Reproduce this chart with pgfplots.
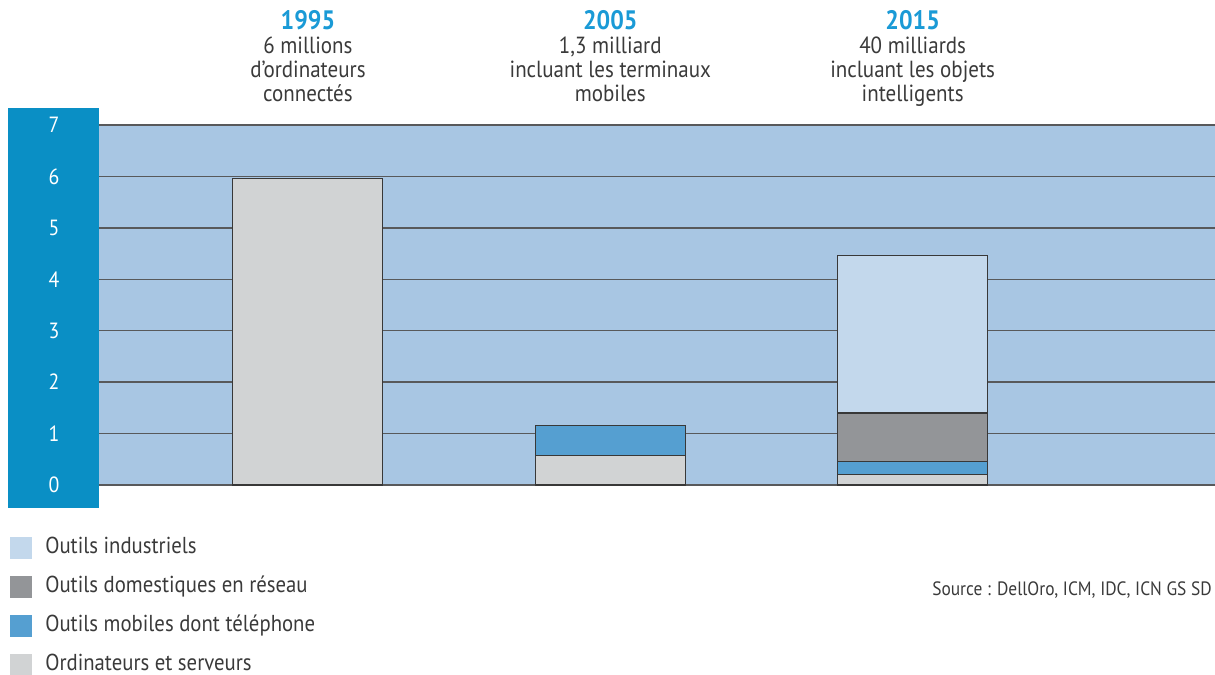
\documentclass[border=0pt]{standalone}
\usepackage{pgfplots}
\pgfplotsset{compat=1.18}
\usepackage{fontspec}
\setmainfont{PT Sans}[FakeStretch=0.9]
\definecolor{stripblue}{HTML}{0A8FC5}
\definecolor{plotbg}{HTML}{A8C6E3}
\definecolor{titleblue}{HTML}{1A9AD6}
\definecolor{cOrd}{HTML}{D1D3D4}
\definecolor{cMob}{HTML}{559FD1}
\definecolor{cDom}{HTML}{939598}
\definecolor{cInd}{HTML}{C3D8EC}
\definecolor{txt}{HTML}{3A3A3A}
\definecolor{gridc}{HTML}{58595B}
\begin{document}
\begin{tikzpicture}
\path[use as bounding box] (0,0) rectangle (911.25pt,506.25pt);
\fill[stripblue] (6pt,125.25pt) rectangle (74.25pt,425.25pt);
\begin{axis}[
  at={(74.25pt,142.5pt)}, anchor=south west,
  width=837pt, height=270pt, scale only axis,
  xmin=-0.691, xmax=3.0, ymin=0, ymax=7,
  xtick=\empty, ytick={0,1,...,7},
  major tick length=0pt,
  axis line style={draw=none},
  axis background/.style={fill=plotbg},
  ymajorgrids, grid style={gridc, line width=1.1pt},
  /pgf/number format/assume math mode=true,
  yticklabel style={font=\fontsize{16.5}{18}\selectfont, text=white, anchor=center, xshift=-33.75pt},
  ybar stacked, bar width=112.5pt,
  clip=false,
  every axis plot/.append style={draw=black!78, line width=0.8pt},
  reverse legend,
  legend style={at={(-0.0797,-0.145)}, anchor=north west, draw=none, fill=none,
    inner sep=0pt, row sep=12.7pt, font=\fontsize{17.3}{18}\selectfont, text=txt,
    nodes={inner sep=0pt, text height=11pt, text depth=3pt, anchor=base west},
    /tikz/every odd column/.append style={column sep=9.75pt}},
  legend image code/.code={\fill[#1,draw=none] (0pt,-4.5pt) rectangle (16.5pt,12pt);},
]
\addplot[fill=cOrd] coordinates {(0,5.96) (1,0.58) (2,0.21)};
\addlegendentry{Ordinateurs et serveurs}
\addplot[fill=cMob] coordinates {(0,0) (1,0.57) (2,0.24)};
\addlegendentry{Outils mobiles dont téléphone}
\addplot[fill=cDom] coordinates {(0,0) (1,0) (2,0.95)};
\addlegendentry{Outils domestiques en réseau}
\addplot[fill=cInd] coordinates {(0,0) (1,0) (2,3.06)};
\addlegendentry{Outils industriels}
\node[anchor=north, align=center, inner sep=0pt, text=txt, font=\fontsize{17.5}{18.2}\selectfont] at (axis cs:0,9.24)
  {{\fontsize{20}{18}\selectfont\bfseries\color{titleblue}1995}\\6 millions\\d'ordinateurs\\connectés};
\node[anchor=north, align=center, inner sep=0pt, text=txt, font=\fontsize{17.5}{18.2}\selectfont] at (axis cs:1,9.24)
  {{\fontsize{20}{18}\selectfont\bfseries\color{titleblue}2005}\\1,3 milliard\\incluant les terminaux\\mobiles};
\node[anchor=north, align=center, inner sep=0pt, text=txt, font=\fontsize{17.5}{18.2}\selectfont] at (axis cs:2,9.24)
  {{\fontsize{20}{18}\selectfont\bfseries\color{titleblue}2015}\\40 milliards\\incluant les objets\\intelligents};
\end{axis}
\node[anchor=base east, inner sep=0pt, text=txt, font=\fontsize{14.5}{15}\selectfont] at (909pt,59.25pt)
  {Source : DellOro, ICM, IDC, ICN GS SD};
\end{tikzpicture}
\end{document}
